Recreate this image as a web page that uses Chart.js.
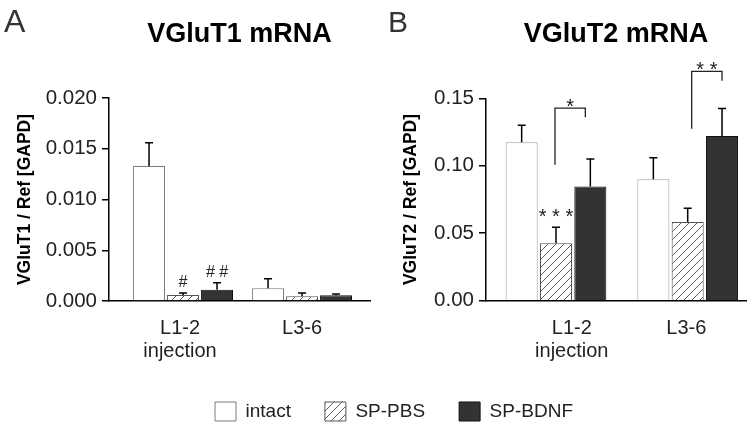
<!DOCTYPE html>
<html><head><meta charset="utf-8">
<script src="https://cdn.jsdelivr.net/npm/chart.js@4"></script>
<style>
html,body{margin:0;padding:0;width:752px;height:427px;overflow:hidden;background:#fff;}
#a{position:absolute;left:0;top:0;}
#b{position:absolute;left:376px;top:0;}
</style></head><body>
<canvas id="a" width="788" height="431"></canvas>
<canvas id="b" width="376" height="427"></canvas>
<script>
// ---------- data ----------
const categories = [['L1-2', 'injection'], 'L3-6'];
const seriesNames = ['intact', 'SP-PBS', 'SP-BDNF'];

const vglut1Intact = [0.0133, 0.00125];
const vglut1PBS    = [0.0006, 0.00046];
const vglut1BDNF   = [0.0011, 0.00056];
const vglut1IntactErr = [0.0023, 0.00095];
const vglut1PBSErr    = [0.0002, 0.00034];
const vglut1BDNFErr   = [0.0007, 0.00014];

const vglut2Intact = [0.1175, 0.090];
const vglut2PBS    = [0.0426, 0.0584];
const vglut2BDNF   = [0.0846, 0.122];
const vglut2IntactErr = [0.0125, 0.016];
const vglut2PBSErr    = [0.0119, 0.0101];
const vglut2BDNFErr   = [0.0204, 0.0204];

const yTicksA = [0, 0.005, 0.010, 0.015, 0.020];
const yTicksB = [0, 0.05, 0.10, 0.15];

// significance labels
const sigA = [{ds: 1, i: 0, text: '#'}, {ds: 2, i: 0, text: '# #'}];
const sigB = [{ds: 1, i: 0, text: '* * *'}];
const bracketsB = [
  {from: [1, 0], to: [2, 0], levels: [0.1007, 0.1427, 0.136], text: '*'},
  {from: [1, 1], to: [2, 1], levels: [0.1274, 0.170, 0.163], text: '* *'}
];

// ---------- helpers ----------
const FONT = "'Liberation Sans', Arial, Helvetica, sans-serif";
Chart.defaults.font.family = FONT;
Chart.defaults.color = '#1a1a1a';

function toPoints(arr) { return arr.map((v, i) => ({x: i + 1, y: v})); }

function hatch(ctx) {
  const c = document.createElement('canvas');
  c.width = 8; c.height = 8;
  const g = c.getContext('2d');
  g.fillStyle = '#fff'; g.fillRect(0, 0, 8, 8);
  g.strokeStyle = '#4a4a4a'; g.lineWidth = 0.9;
  g.beginPath();
  g.moveTo(0, 8); g.lineTo(8, 0);
  g.moveTo(-2, 2); g.lineTo(2, -2);
  g.moveTo(6, 10); g.lineTo(10, 6);
  g.stroke();
  return ctx.createPattern(c, 'repeat');
}

const annotPlugin = {
  id: 'annot',
  afterDraw(chart, args, opts) {
    const ctx = chart.ctx, ys = chart.scales.y;
    const barOf = (ds, i) => chart.getDatasetMeta(ds).data[i];
    const valOf = (ds, i) => chart.data.datasets[ds].data[i].y;
    const errTop = (ds, i) => ys.getPixelForValue(valOf(ds, i) + opts.errors[ds][i]);
    ctx.save();
    // error bars (upper only)
    ctx.strokeStyle = '#000'; ctx.lineWidth = 1.5;
    opts.errors.forEach((errs, ds) => {
      chart.getDatasetMeta(ds).data.forEach((bar, i) => {
        const t = errTop(ds, i);
        ctx.beginPath();
        ctx.moveTo(bar.x, bar.y); ctx.lineTo(bar.x, t);
        ctx.moveTo(bar.x - 4, t); ctx.lineTo(bar.x + 4, t);
        ctx.stroke();
      });
    });
    // significance marks above error bars
    ctx.fillStyle = '#222'; ctx.textAlign = 'center'; ctx.textBaseline = 'alphabetic';
    (opts.marks || []).forEach(m => {
      ctx.font = opts.markFont;
      ctx.fillText(m.text, barOf(m.ds, m.i).x + (opts.markDx || 0), errTop(m.ds, m.i) - opts.markGap);
    });
    // brackets
    ctx.strokeStyle = '#222'; ctx.lineWidth = 1.3;
    (opts.brackets || []).forEach((b, k) => {
      const dx = opts.bracketDx[k];
      const x1 = barOf(b.from[0], b.from[1]).x + dx[0];
      const x2 = barOf(b.to[0], b.to[1]).x + dx[1];
      const y1 = ys.getPixelForValue(b.levels[0]);
      const yt = ys.getPixelForValue(b.levels[1]);
      const y2 = ys.getPixelForValue(b.levels[2]);
      ctx.beginPath();
      ctx.moveTo(x1, y1); ctx.lineTo(x1, yt); ctx.lineTo(x2, yt); ctx.lineTo(x2, y2);
      ctx.stroke();
      ctx.font = opts.starFont;
      ctx.fillText(b.text, (x1 + x2) / 2, yt + 5);
    });
    // panel letter
    ctx.font = opts.letterFont; ctx.fillStyle = '#333'; ctx.textAlign = 'left';
    ctx.fillText(opts.letter, opts.letterX, opts.letterY);
    ctx.restore();
  }
};

function makeDatasets(ctx, vals, intactBorder) {
  return [
    {label: seriesNames[0], data: toPoints(vals[0]), backgroundColor: '#ffffff', borderColor: intactBorder, borderWidth: 1},
    {label: seriesNames[1], data: toPoints(vals[1]), backgroundColor: hatch(ctx), borderColor: '#555', borderWidth: 1},
    {label: seriesNames[2], data: toPoints(vals[2]), backgroundColor: '#333333', borderColor: '#111', borderWidth: 1}
  ];
}

function makeOptions(cfg) {
  return {
    responsive: false,
    animation: false,
    devicePixelRatio: 1,
    layout: {padding: cfg.padding},
    datasets: {bar: {categoryPercentage: cfg.cp, barPercentage: cfg.bp, borderSkipped: 'start'}},
    scales: Object.assign({
      x: {
        type: 'linear', min: cfg.xMin, max: cfg.xMax, offset: false, bounds: 'data',
        afterBuildTicks: s => { s.ticks = cfg.xTickPos.map(v => ({value: v})); },
        afterFit: s => { s.height = cfg.xHeight; },
        ticks: {callback: (v, i) => categories[i], font: {size: 20, lineHeight: 1.15}, color: '#222', padding: 16, maxRotation: 0, autoSkip: false},
        grid: {display: true, drawOnChartArea: false, drawTicks: false},
        border: {display: true, color: '#000', width: 1.5}
      },
      y: {
        min: 0, max: cfg.yMax,
        afterBuildTicks: s => { s.ticks = cfg.yTicks.map(v => ({value: v})); },
        afterFit: s => { s.width = cfg.yWidth; },
        ticks: {callback: v => v.toFixed(cfg.dec), font: {size: 20.5}, color: '#222', padding: 5},
        grid: {display: true, drawOnChartArea: false, drawTicks: true, tickLength: 7, color: '#000', lineWidth: 1.5},
        border: {display: true, color: '#000', width: 1.5},
        title: {display: true, text: cfg.yTitle, font: {size: 17.5, weight: 'bold'}, color: '#000', padding: {top: cfg.yTitlePad, bottom: 0}}
      }
    }, cfg.extraScales || {}),
    plugins: {
      title: {display: true, text: cfg.title, fullSize: false, font: {size: 27, weight: 'bold'}, color: '#000', padding: {top: 18, bottom: cfg.titleBottom}},
      legend: cfg.legend,
      tooltip: {enabled: false},
      annot: cfg.annot
    }
  };
}

// ---------- Panel A ----------
const ctxA = document.getElementById('a').getContext('2d');
new Chart(ctxA, {
  type: 'bar',
  data: {datasets: makeDatasets(ctxA, [vglut1Intact, vglut1PBS, vglut1BDNF], '#7a7a7a')},
  options: makeOptions({
    padding: {left: 0, right: 0, top: 0, bottom: 0},
    cp: 0.857, bp: 0.94,
    xMin: 0.378, xMax: 2.571, xTickPos: [0.975, 2.0], xHeight: 67,
    yMax: 0.020, yTicks: yTicksA, yWidth: 109, dec: 3,
    yTitle: 'VGluT1 / Ref [GAPD]', yTitlePad: 15,
    title: 'VGluT1 mRNA', titleBottom: 47.6,
    extraScales: {
      pad: {type: 'linear', position: 'right', display: true,
        grid: {display: false, drawTicks: false}, ticks: {display: false}, border: {display: false},
        afterFit: s => { s.width = 788 - 370; }}
    },
    legend: {display: true, position: 'bottom',
      labels: {boxWidth: 21, boxHeight: 19, padding: 34, font: {size: 19}, color: '#222'}},
    annot: {
      errors: [vglut1IntactErr, vglut1PBSErr, vglut1BDNFErr],
      marks: sigA, markFont: "16px " + FONT, markGap: 6,
      brackets: [], bracketDx: [], starFont: "20px " + FONT,
      letter: 'A', letterFont: "32px " + FONT, letterX: 4, letterY: 32
    }
  }),
  plugins: [annotPlugin]
});

// ---------- Panel B ----------
const ctxB = document.getElementById('b').getContext('2d');
new Chart(ctxB, {
  type: 'bar',
  data: {datasets: makeDatasets(ctxB, [vglut2Intact, vglut2PBS, vglut2BDNF], '#a0a0a0')},
  options: makeOptions({
    padding: {left: 0, right: 6, top: 0, bottom: 0},
    cp: 0.899, bp: 0.933,
    xMin: 0.4685, xMax: 2.4427, xTickPos: [1.12, 1.99], xHeight: 126.3,
    yMax: 0.15, yTicks: yTicksB, yWidth: 110, dec: 2,
    yTitle: 'VGluT2 / Ref [GAPD]', yTitlePad: 25,
    title: 'VGluT2 mRNA', titleBottom: 47.9,
    legend: {display: false},
    annot: {
      errors: [vglut2IntactErr, vglut2PBSErr, vglut2BDNFErr],
      marks: sigB, markFont: "20px " + FONT, markGap: 4,
      brackets: bracketsB, bracketDx: [[-1, -5], [4, 0]], starFont: "20px " + FONT,
      letter: 'B', letterFont: "30px " + FONT, letterX: 12, letterY: 32
    }
  }),
  plugins: [annotPlugin]
});
</script>
</body></html>
